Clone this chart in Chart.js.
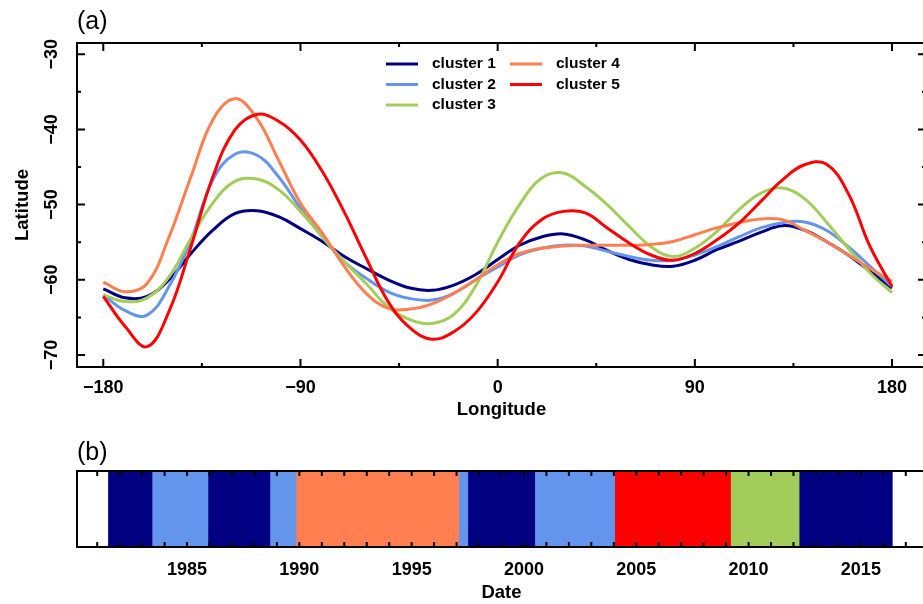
<!DOCTYPE html>
<html lang="en">
<head>
<meta charset="UTF-8">
<title>Cluster tracks</title>
<script src="https://cdn.jsdelivr.net/npm/chart.js"></script>
<style>
  html, body { margin: 0; padding: 0; background: #fff; overflow: hidden; width: 923px; height: 604px; }
  .panel { position: absolute; left: 0; }
  #top { top: 0; }
  #bottom { top: 425px; }
</style>
</head>
<body>
<div class="panel" id="top"><canvas id="tracks" width="928" height="425"></canvas></div>
<div class="panel" id="bottom"><canvas id="timeline" width="928" height="179"></canvas></div>
<script>
// mean track of each cluster, latitude every 10 degrees of longitude
const longitudes = [-180, -170, -160, -150, -140, -130, -120, -110, -100, -90, -80, -70, -60, -50, -40, -30, -20, -10,
  0, 10, 20, 30, 40, 50, 60, 70, 80, 90, 100, 110, 120, 130, 140, 150, 160, 170, 180];
const cluster1 = [-61.2, -62.4, -62.2, -60.0, -56.5, -53.4, -51.2, -50.8, -51.6, -53.2, -54.9, -56.9, -58.5, -60.0, -61.1, -61.4, -60.7, -59.3,
  -57.3, -55.4, -54.3, -53.9, -54.7, -56.1, -57.3, -58.0, -58.2, -57.4, -56.0, -54.9, -53.7, -52.8, -53.4, -54.9, -56.7, -58.9, -61.1];
const cluster2 = [-62.0, -64.1, -64.7, -60.9, -54.7, -46.7, -43.3, -43.4, -46.3, -50.5, -54.3, -57.6, -59.8, -61.6, -62.5, -62.7, -61.8, -60.0,
  -58.3, -56.7, -55.8, -55.4, -55.5, -56.2, -56.9, -57.4, -57.4, -56.7, -55.6, -54.3, -53.1, -52.4, -52.3, -53.4, -55.6, -58.2, -60.9];
const cluster3 = [-62.0, -62.9, -62.4, -59.6, -54.5, -49.8, -46.9, -46.6, -48.0, -50.9, -54.3, -57.6, -60.5, -63.6, -65.3, -65.8, -64.6, -60.8,
  -55.0, -50.0, -46.5, -45.8, -47.6, -50.0, -52.9, -55.6, -56.9, -55.8, -53.6, -50.7, -48.5, -47.8, -49.2, -52.3, -55.8, -59.1, -61.7];
const cluster4 = [-60.3, -61.6, -60.5, -54.3, -46.3, -38.7, -35.9, -38.5, -44.1, -49.8, -53.8, -58.2, -61.8, -63.8, -63.9, -63.2, -61.8, -60.0,
  -58.0, -56.5, -55.8, -55.5, -55.4, -55.4, -55.4, -55.3, -54.9, -54.0, -53.1, -52.4, -51.9, -52.0, -53.4, -54.9, -56.7, -58.5, -60.2];
const cluster5 = [-62.2, -66.2, -68.9, -64.2, -55.6, -46.3, -40.1, -38.0, -38.9, -41.4, -45.6, -51.0, -57.1, -62.9, -66.4, -67.9, -66.9, -64.4,
  -60.3, -55.1, -52.0, -50.9, -51.1, -53.1, -55.1, -56.7, -57.4, -56.5, -54.7, -52.5, -49.6, -46.7, -44.7, -44.6, -48.5, -55.6, -60.9];

const clusterNames = ['cluster 1', 'cluster 2', 'cluster 3', 'cluster 4', 'cluster 5'];
const clusterColors = ['#000080', '#6495ED', '#A2CD5A', '#FF7F50', '#FF0000'];

const lonTicks = [-180, -90, 0, 90, 180];
const lonMinor = [-135, -45, 45, 135];
const latTicks = [-70, -60, -50, -40, -30];
const latMinor = [-65, -55, -45, -35];

// which cluster was active over time (edges in decimal years)
const periodEdges = [1981.5, 1983.44, 1985.93, 1988.69, 1989.85, 1997.1, 1997.5, 2000.48, 2004.04, 2009.2, 2012.25, 2016.4];
const periodCluster = [1, 2, 1, 2, 4, 2, 1, 2, 5, 3, 1];
const yearTicks = [1985, 1990, 1995, 2000, 2005, 2010, 2015];
const yearMinor = [];
for (let y = 1981; y <= 2017; y++) yearMinor.push(y);

const FONT = "'Liberation Sans', Arial, Helvetica, sans-serif";
const TICK_FONT = { family: FONT, size: 18, weight: 'bold' };
const TITLE_FONT = { family: FONT, size: 18.5, weight: 'bold' };
const minus = v => String(v).replace('-', '\u2212');

// box around the plot area with ticks pointing inwards on every side
const framePlugin = {
  id: 'frame',
  afterDraw(chart, args, opts) {
    const { ctx, chartArea: a } = chart;
    ctx.save();
    ctx.strokeStyle = '#000';
    ctx.lineWidth = 2;
    ctx.strokeRect(a.left, a.top, a.right - a.left, a.bottom - a.top);
    opts.marks.forEach(m => {
      const scale = chart.scales[m.axis];
      ctx.beginPath();
      m.values.forEach(v => {
        const p = scale.getPixelForValue(v);
        if (scale.isHorizontal()) {
          ctx.moveTo(p, a.bottom); ctx.lineTo(p, a.bottom - m.len);
          ctx.moveTo(p, a.top); ctx.lineTo(p, a.top + m.len);
        } else {
          ctx.moveTo(a.left, p); ctx.lineTo(a.left + m.len, p);
          ctx.moveTo(a.right, p); ctx.lineTo(a.right - m.len, p);
        }
      });
      ctx.stroke();
    });
    if (opts.panel) {
      ctx.fillStyle = '#000';
      ctx.font = '25px ' + FONT;
      ctx.textBaseline = 'middle';
      ctx.textAlign = 'left';
      ctx.fillText(opts.panel, a.left, a.top - opts.panelGap);
    }
    ctx.restore();
  }
};

// latitude labels are written sideways along the left axis
const sideLabels = {
  id: 'sideLabels',
  afterDraw(chart) {
    const { ctx } = chart;
    const scale = chart.scales.y;
    ctx.save();
    ctx.fillStyle = '#000';
    ctx.font = 'bold 18px ' + FONT;
    ctx.textAlign = 'center';
    ctx.textBaseline = 'middle';
    latTicks.forEach(v => {
      ctx.save();
      ctx.translate(52, scale.getPixelForValue(v));
      ctx.rotate(-Math.PI / 2);
      ctx.fillText(minus(v), 0, 0);
      ctx.restore();
    });
    ctx.restore();
  }
};

// two-column legend inside the plot: clusters 1-3 left, 4-5 right
const clusterLegend = {
  id: 'clusterLegend',
  afterDraw(chart) {
    const { ctx } = chart;
    const cols = [386, 510];
    const rows = [64, 84.5, 105];
    ctx.save();
    ctx.font = 'bold 15.5px ' + FONT;
    ctx.textBaseline = 'middle';
    ctx.textAlign = 'left';
    chart.data.datasets.forEach((ds, i) => {
      const x = cols[i < 3 ? 0 : 1];
      const y = rows[i < 3 ? i : i - 3];
      ctx.strokeStyle = ds.borderColor;
      ctx.lineWidth = 3;
      ctx.beginPath();
      ctx.moveTo(x, y); ctx.lineTo(x + 32, y);
      ctx.stroke();
      ctx.fillStyle = '#000';
      ctx.fillText(ds.label, x + 46, y);
    });
    ctx.restore();
  }
};

const tracks = [cluster1, cluster2, cluster3, cluster4, cluster5];

new Chart(document.getElementById('tracks'), {
  type: 'line',
  data: {
    labels: longitudes,
    datasets: tracks.map((lat, i) => ({
      label: clusterNames[i],
      data: longitudes.map((lon, j) => ({ x: lon, y: lat[j] })),
      borderColor: clusterColors[i],
      borderWidth: 3,
      pointRadius: 0,
      fill: false,
      tension: 0.4,
      order: tracks.length - 1 - i
    }))
  },
  options: {
    responsive: false,
    animation: false,
    events: [],
    layout: { padding: { top: 43, right: 2, left: 0, bottom: 0 } },
    plugins: {
      legend: { display: false },
      tooltip: { enabled: false },
      frame: {
        marks: [
          { axis: 'x', values: lonTicks, len: 8 },
          { axis: 'x', values: lonMinor, len: 4 },
          { axis: 'y', values: latTicks, len: 8 },
          { axis: 'y', values: latMinor, len: 4 }
        ],
        panel: '(a)',
        panelGap: 21
      }
    },
    scales: {
      x: {
        type: 'linear',
        min: -192,
        max: 195.5,
        grid: { display: false, drawTicks: false },
        border: { display: false },
        afterBuildTicks: s => { s.ticks = lonTicks.map(v => ({ value: v })); },
        afterFit: s => { s.height = 58; },
        ticks: {
          padding: 10,
          color: '#000',
          maxRotation: 0,
          font: TICK_FONT,
          callback: v => minus(v)
        },
        title: {
          display: true,
          text: 'Longitude',
          color: '#000',
          font: TITLE_FONT,
          padding: { top: 0, bottom: 4 }
        }
      },
      y: {
        type: 'linear',
        min: -71.6,
        max: -28.5,
        grid: { display: false, drawTicks: false },
        border: { display: false },
        afterFit: s => { s.width = 77; },
        ticks: { display: false },
        title: {
          display: true,
          text: 'Latitude',
          color: '#000',
          font: TITLE_FONT,
          padding: { top: 12, bottom: 0 }
        }
      }
    }
  },
  plugins: [framePlugin, sideLabels, clusterLegend]
});

new Chart(document.getElementById('timeline'), {
  type: 'bar',
  data: {
    labels: [''],
    datasets: periodCluster.map((c, i) => ({
      label: clusterNames[c - 1],
      data: [[periodEdges[i], periodEdges[i + 1]]],
      backgroundColor: clusterColors[c - 1],
      borderWidth: 0,
      grouped: false,
      barPercentage: 1,
      categoryPercentage: 1
    }))
  },
  options: {
    indexAxis: 'y',
    responsive: false,
    animation: false,
    events: [],
    layout: { padding: { top: 46, right: 2, left: 77, bottom: 0 } },
    plugins: {
      legend: { display: false },
      tooltip: { enabled: false },
      frame: {
        marks: [{ axis: 'x', values: yearMinor, len: 5 }],
        panel: '(b)',
        panelGap: 18
      }
    },
    scales: {
      x: {
        type: 'linear',
        min: 1980.1,
        max: 2017.9,
        grid: { display: false, drawTicks: false },
        border: { display: false },
        afterBuildTicks: s => { s.ticks = yearTicks.map(v => ({ value: v })); },
        afterFit: s => { s.height = 57; },
        ticks: {
          padding: 12,
          color: '#000',
          maxRotation: 0,
          font: TICK_FONT,
          callback: v => String(v)
        },
        title: {
          display: true,
          text: 'Date',
          color: '#000',
          font: TITLE_FONT,
          padding: { top: 0, bottom: 0 }
        }
      },
      y: { type: 'category', display: false }
    }
  },
  plugins: [framePlugin]
});
</script>
</body>
</html>
